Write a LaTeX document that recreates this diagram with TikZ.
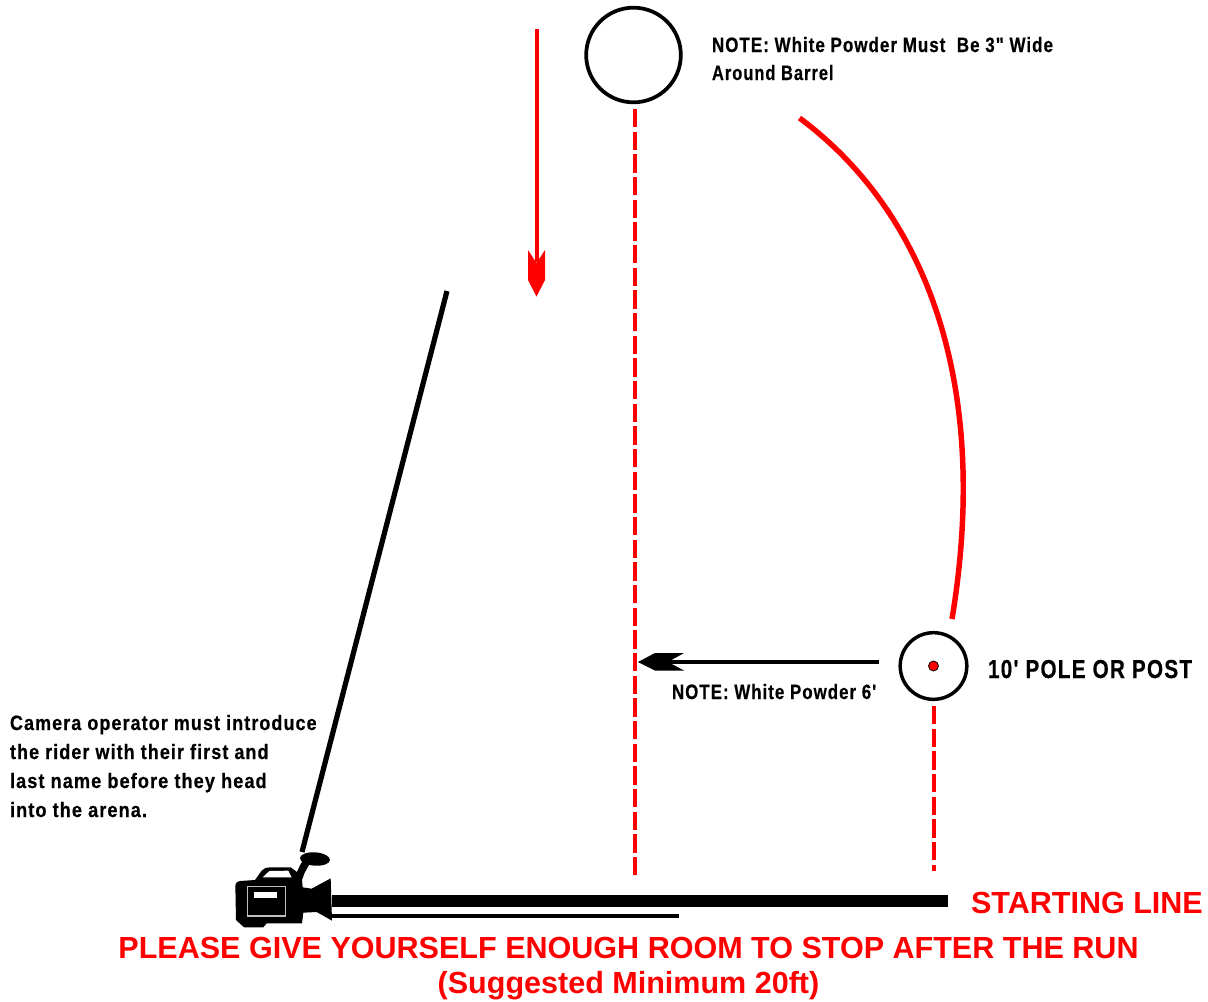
\documentclass[tikz,border=0pt]{standalone}
\usepackage{fontspec}
\usepackage{graphicx}
\setmainfont{Liberation Sans}[Ligatures=TeXOff]
\newfontfamily\narrowfont{Liberation Sans}[Ligatures=TeXOff,BoldFont={Liberation Sans Bold},BoldFeatures={LetterSpace=6,FakeBold=0.5}]
\usetikzlibrary{calc}
\definecolor{rd}{RGB}{255,0,0}
\newcommand{\narrowtxt}[1]{\scalebox{0.8}[1]{\narrowfont\fontsize{15.6}{21.6}\selectfont\bfseries #1}}
\tikzset{
  x=0.75pt,y=-0.75pt,
  note/.style={anchor=base west,inner sep=0pt,outer sep=0pt,text=black},
  redtxt/.style={inner sep=0pt,outer sep=0pt,text=rd,font=\fontsize{22.9}{26}\selectfont\bfseries},
  ring/.style={circle,draw=black,inner sep=0pt,outer sep=0pt,fill=white},
  reddash/.style={draw=rd,line width=3pt,dash pattern=on 13.8pt off 3.2pt},
  redline/.style={draw=rd,line width=4.1pt},
  blackline/.style={draw=black}
}
\begin{document}
\begin{tikzpicture}
\useasboundingbox (0,0) rectangle (1208,1001);
% barrel and pole
\node[ring,line width=2.8pt,minimum size=71pt] (barrel) at (633.5,55) {};
\node[ring,line width=2.6pt,minimum size=50pt] (pole) at (933.5,666) {};
\node[circle,fill=rd,draw=black,line width=0.6pt,inner sep=0pt,minimum size=7.5pt] (post) at (pole.center) {};
% coordinates
\coordinate (arrowTop) at (536.5,29);
\coordinate (arrowShaft) at (536.5,262);
\coordinate (dashATop) at (634.5,109);
\coordinate (dashABot) at (634.5,875);
\coordinate (dashBTop) at (933.5,706);
\coordinate (dashBBot) at (933.5,871);
\coordinate (curveA) at (799.5,118);
\coordinate (curveB) at (952,619);
\coordinate (sightA) at (447,291);
\coordinate (sightB) at (302,852);
\coordinate (noteArrowR) at (879,662);
\coordinate (noteArrowL) at (668,662);
\coordinate (lineAL) at (332,901);
\coordinate (lineAR) at (948,901);
\coordinate (lineBL) at (332,916);
\coordinate (lineBR) at (679,916);
% red arrow
\draw[draw=rd,line width=3pt] (arrowTop) -- (arrowShaft);
\fill[rd] (528,250) -- (536.5,263) -- (545,250) -- (545,280) -- (536.5,296.5) -- (528,280) -- cycle;
% dashed
\draw[reddash] (dashATop) -- (dashABot);
\draw[reddash] (dashBTop) -- (dashBBot);
% curve
\draw[redline] (curveA) .. controls (930,215) and (990,390) .. (curveB);
% sight line
\draw[blackline,line width=3.9pt] (sightA) -- (sightB);
% black arrow
\draw[blackline,line width=3pt] (noteArrowR) -- (noteArrowL);
\fill[black] (638,662) -- (655,653) -- (684,653) -- (668,662) -- (684,670.5) -- (655,670.5) -- cycle;
% starting lines
\draw[blackline,line width=8.8pt] (lineAL) -- (lineAR);
\draw[blackline,line width=3.2pt] (lineBL) -- (lineBR);
% camera
\begin{scope}[shift={(220,840)},x=0.25pt,y=-0.25pt]
\fill[black] (46,135) to[out=80,in=180] (60,123) -- (105,120) -- (125,92) to[out=50,in=180] (150,82) -- (212,82) -- (231,96) -- (238,80) -- (248,62) -- (272,66) -- (254,98) -- (246,120) -- (248,142) -- (275,146) -- (332,115) -- (336,242) -- (290,216) -- (250,218) -- (246,250) -- (140,250) -- (130,262) -- (72,262) -- (48,240) -- cycle;
\fill[black,rotate around={-4:(285,57)}] (285,57) ellipse (45 and 20);
\fill[white] (128,112) -- (148,93) -- (205,92) -- (215,112) -- cycle;
\draw[black!25!white,line width=1pt] (82,140) rectangle (197,228);
\fill[white] (103,155) rectangle (172,173);
\end{scope}
% notes
\node[note] (n1) at (712,52) {\scalebox{1.02}[1]{\narrowtxt{NOTE: White Powder Must\ \ Be 3" Wide}}};
\node[note] (n2) at (712,80) {\scalebox{0.99}[1]{\narrowtxt{Around Barrel}}};
\node[note] (n3) at (672,699) {\scalebox{1.015}[1]{\narrowtxt{NOTE: White Powder 6'}}};
\node[note] (n4) at (988,678) {\scalebox{1.245}[1.25]{\narrowtxt{10' POLE OR POST}}};
\node[note] (c1) at (10,730) {\scalebox{1.08}[1]{\narrowtxt{Camera operator must introduce}}};
\node[note] (c2) at (10,759) {\scalebox{1.08}[1]{\narrowtxt{the rider with their first and}}};
\node[note] (c3) at (10,788) {\scalebox{1.09}[1]{\narrowtxt{last name before they head}}};
\node[note] (c4) at (10,817) {\scalebox{1.09}[1]{\narrowtxt{into the arena.}}};
\node[redtxt,anchor=base west] (s) at (971,913) {STARTING LINE};
\node[redtxt,anchor=base] (p1) at (628.5,958) {PLEASE GIVE YOURSELF ENOUGH ROOM TO STOP AFTER THE RUN};
\node[redtxt,anchor=base] (p2) at (628.5,993) {(Suggested Minimum 20ft)};
\end{tikzpicture}
\end{document}
